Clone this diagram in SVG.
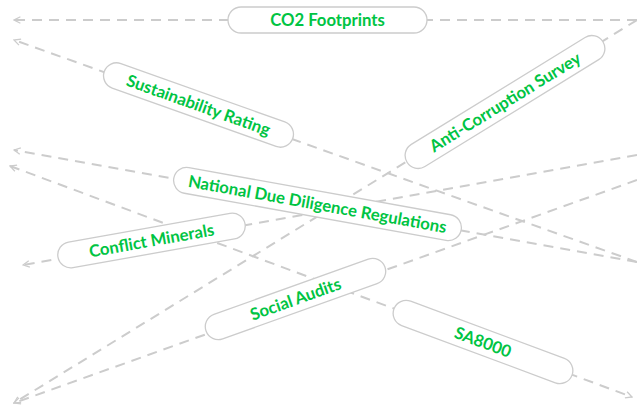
<svg xmlns="http://www.w3.org/2000/svg" width="637" height="407" viewBox="0 0 637 407">
<defs>
<marker id="arr" viewBox="0 0 10 10" refX="9" refY="5" markerWidth="8" markerHeight="8" markerUnits="userSpaceOnUse" orient="auto-start-reverse">
<path d="M1,1 L9,5 L1,9" fill="none" stroke="#cccccc" stroke-width="1.6"/>
</marker>
<style>
.e{fill:none;stroke:#cccccc;stroke-width:2;stroke-dasharray:10 7}
.p{fill:#ffffff;stroke:#cccccc;stroke-width:1.3}
.t{font-family:"Lato","Noto Sans",sans-serif;font-weight:700;font-size:16.7px;fill:#00c443;text-anchor:middle}
</style>
</defs>
<rect width="637" height="407" fill="#ffffff"/>
<g id="connectors">
<path class="e" d="M637,20 L14,20" marker-end="url(#arr)"/>
<path class="e" d="M637,20 L14,403" marker-end="url(#arr)"/>
<path class="e" d="M637,262 L14,40" marker-end="url(#arr)"/>
<path class="e" d="M637,262 L14,150" marker-end="url(#arr)"/>
<path class="e" d="M637,155 L23,265" marker-end="url(#arr)"/>
<path class="e" d="M637,180 L14,403" marker-end="url(#arr)"/>
<path class="e" d="M10,166 L632,397" marker-start="url(#arr)" marker-end="url(#arr)"/>
</g>
<g id="co2-footprints" transform="translate(327.5,20)">
<rect class="p" x="-99.5" y="-13" width="199" height="26" rx="13"/>
<text class="t" x="0" y="6">CO2 Footprints</text>
</g>
<g id="sustainability-rating" transform="translate(198.5,105) rotate(19.6)">
<rect class="p" x="-100" y="-13" width="200" height="26" rx="13"/>
<text class="t" x="0" y="6">Sustainability Rating</text>
</g>
<g id="anti-corruption-survey" transform="translate(505,102) rotate(-31.6)">
<rect class="p" x="-115" y="-13" width="230" height="26" rx="13"/>
<text class="t" x="0" y="6">Anti-Corruption Survey</text>
</g>
<g id="national-due-diligence-regulations" transform="translate(317.5,204) rotate(10.2)">
<rect class="p" x="-146" y="-13" width="292" height="26" rx="13"/>
<text class="t" x="0" y="6">National Due Diligence Regulations</text>
</g>
<g id="conflict-minerals" transform="translate(151.5,240.5) rotate(-10.1)">
<rect class="p" x="-95" y="-13" width="190" height="26" rx="13"/>
<text class="t" x="0" y="6">Conflict Minerals</text>
</g>
<g id="social-audits" transform="translate(295.5,299) rotate(-19.7)">
<rect class="p" x="-95" y="-13" width="190" height="26" rx="13"/>
<text class="t" x="0" y="6">Social Audits</text>
</g>
<g id="sa8000" transform="translate(483,342) rotate(20.4)">
<rect class="p" x="-95" y="-13" width="190" height="26" rx="13"/>
<text class="t" x="0" y="6">SA8000</text>
</g>
</svg>
